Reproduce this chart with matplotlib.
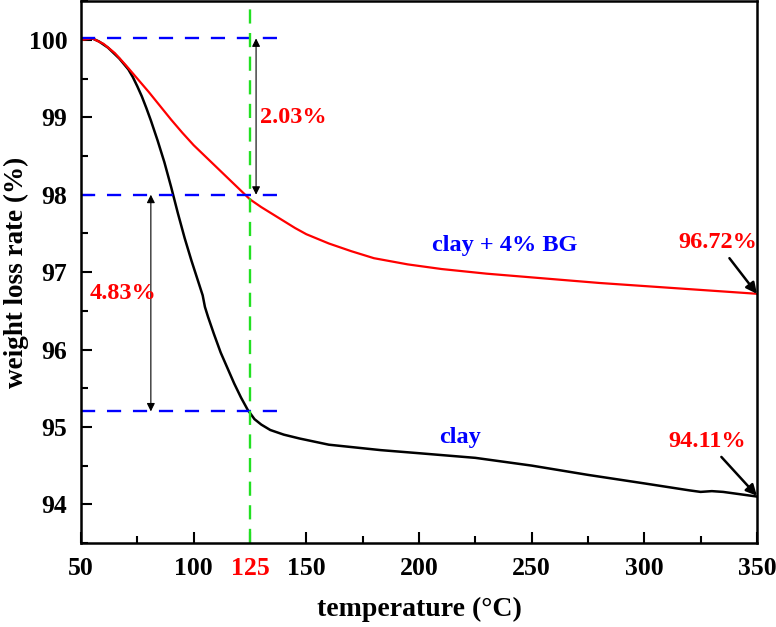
import matplotlib
matplotlib.use("Agg")
import matplotlib.pyplot as plt
from matplotlib.ticker import MultipleLocator

plt.rcParams['font.family'] = ['Liberation Serif', 'DejaVu Serif']
plt.rcParams['font.weight'] = 'bold'

# clay (black)
clay_t = [50, 55, 58, 62, 67, 71, 73, 75, 77, 79, 81, 84, 87, 90, 93, 96, 99,
          102, 104, 105, 106.4, 109, 112, 115, 118, 121, 124, 127, 130, 134,
          140, 147, 160, 183, 200, 225, 250, 275, 300, 320, 325, 330, 335, 350]
clay_w = [100.0, 100.02, 99.98, 99.9, 99.76, 99.62, 99.52, 99.4, 99.27, 99.12,
          98.96, 98.7, 98.42, 98.1, 97.76, 97.44, 97.15, 96.88, 96.7, 96.55,
          96.42, 96.2, 95.96, 95.76, 95.56, 95.38, 95.22, 95.1, 95.03, 94.96,
          94.9, 94.85, 94.77, 94.7, 94.66, 94.6, 94.5, 94.38, 94.27, 94.18,
          94.16, 94.17, 94.16, 94.1]

# clay + 4% BG (red)
bg_t = [50, 55, 60, 65, 70, 75, 80, 85, 90, 95, 100, 105, 110, 115, 120, 125,
        130, 135, 140, 145, 150, 160, 170, 180, 195, 210, 230, 255, 280, 300,
        325, 350]
bg_w = [100.0, 100.02, 99.95, 99.83, 99.67, 99.5, 99.33, 99.15, 98.97, 98.8,
        98.64, 98.5, 98.36, 98.22, 98.08, 97.94, 97.84, 97.75, 97.66, 97.57,
        97.49, 97.37, 97.27, 97.18, 97.1, 97.04, 96.98, 96.92, 96.86, 96.82,
        96.77, 96.72]

ref_levels = [100.02, 98.0, 95.2]
ref_ends = [140, 137, 138]
t_mark = 125
x_ticks = [50, 100, 125, 150, 200, 250, 300, 350]

fig = plt.figure(figsize=(7.76, 6.27), dpi=100)
ax = fig.add_axes([0.1044, 0.134, 0.871, 0.864])

ax.plot(clay_t, clay_w, color='black', lw=1.8)
ax.plot(bg_t, bg_w, color='red', lw=1.6)

for lvl, end in zip(ref_levels, ref_ends):
    ax.plot([50, end], [lvl, lvl], color='blue', lw=1.7, dashes=(6, 5))
ax.axvline(t_mark, color='#22e022', lw=1.7, dashes=(6, 4))

# double arrows for the losses
ax.annotate('', xy=(127.7, 100.02), xytext=(127.7, 98.0),
            arrowprops=dict(arrowstyle='<|-|>', color='black', lw=0.8,
                            mutation_scale=12, shrinkA=0, shrinkB=0))
ax.annotate('', xy=(81, 98.0), xytext=(81, 95.2),
            arrowprops=dict(arrowstyle='<|-|>', color='black', lw=0.8,
                            mutation_scale=12, shrinkA=0, shrinkB=0))
ax.text(129.5, 99.0, '2.03%', color='red', fontsize=17.5, fontweight='bold',
        ha='left', va='center')
ax.text(68.7, 96.72, '4.83%', color='red', fontsize=17.5, fontweight='bold',
        ha='center', va='center')

ax.text(238, 97.34, 'clay + 4% BG', color='blue', fontsize=17.5,
        fontweight='bold', ha='center', va='center')
ax.text(218, 94.86, 'clay', color='blue', fontsize=17.5,
        fontweight='bold', ha='center', va='center')

ax.annotate('96.72%', xy=(350, 96.72), xytext=(332.5, 97.38), color='red',
            fontsize=17.5, fontweight='bold', ha='center', va='center',
            arrowprops=dict(arrowstyle='-|>', color='black', lw=1.8,
                            mutation_scale=16, shrinkA=2, shrinkB=0))
ax.annotate('94.11%', xy=(350, 94.11), xytext=(328, 94.81), color='red',
            fontsize=17.5, fontweight='bold', ha='center', va='center',
            arrowprops=dict(arrowstyle='-|>', color='black', lw=1.8,
                            mutation_scale=16, shrinkA=2, shrinkB=0))

ax.set_xlim(50, 350)
ax.set_ylim(93.5, 100.5)
ax.set_xticks(x_ticks)
ax.xaxis.set_minor_locator(MultipleLocator(25))
ax.yaxis.set_major_locator(MultipleLocator(1))
ax.yaxis.set_minor_locator(MultipleLocator(0.5))
ax.tick_params(which='both', direction='in', width=1.5, labelsize=18.5,
               top=False, right=False, pad=10)
ax.tick_params(which='major', length=8)
ax.tick_params(which='minor', length=5)
for lab in ax.get_xticklabels():
    lab.set_fontweight('bold')
    if lab.get_text() == '125':
        lab.set_color('red')
for lab in ax.get_yticklabels():
    lab.set_fontweight('bold')
for sp in ax.spines.values():
    sp.set_linewidth(1.8)

ax.set_xlabel('temperature (\u00b0C)', fontsize=20, fontweight='bold', labelpad=12)
ax.set_ylabel('weight loss rate (%)', fontsize=19.5, fontweight='bold')
ax.yaxis.set_label_coords(-0.077, 0.5)

fig.savefig('out.png', dpi=100)
